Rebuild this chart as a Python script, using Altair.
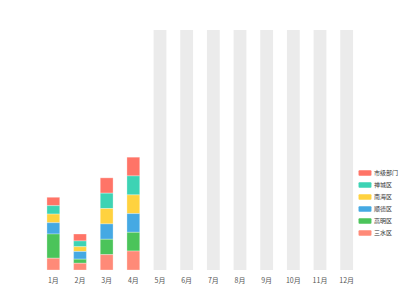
import altair as alt
import pandas as pd

months = ["1月", "2月", "3月", "4月", "5月", "6月", "7月", "8月", "9月", "10月", "11月", "12月"]
series = ["市级部门", "禅城区", "南海区", "顺德区", "高明区", "三水区"]
colors = ["#FF7467", "#3DD3B4", "#FFD23F", "#45A9E3", "#4BC45A", "#FF8A78"]
# values per series for months 1-4 (bottom of stack = 三水区)
values = {
    "三水区": [4.9, 2.8, 6.4, 7.9],
    "高明区": [10.1, 1.7, 6.4, 7.8],
    "顺德区": [4.7, 3.2, 6.4, 7.8],
    "南海区": [3.6, 2.0, 6.4, 7.8],
    "禅城区": [3.5, 2.4, 6.4, 7.9],
    "市级部门": [3.5, 2.9, 6.4, 7.8],
}
empty_months = ["5月", "6月", "7月", "8月", "9月", "10月", "11月", "12月"]
empty_value = 100

rows = []
for s in series:
    for m, v in zip(months[:4], values[s]):
        rows.append({"month": m, "series": s, "value": v, "ord": 5 - series.index(s)})
df = pd.DataFrame(rows)
bg = pd.DataFrame({"month": empty_months, "value": [empty_value] * len(empty_months)})

xenc = alt.X("month:N", sort=months, scale=alt.Scale(domain=months, paddingInner=0.52, paddingOuter=0.26),
             axis=alt.Axis(title=None, labelAngle=0, domain=False, ticks=False, labelColor="#555555",
                           labelFontSize=7, labelPadding=6, labelFont="Noto Sans CJK SC"))
yscale = alt.Scale(domain=[0, 100])

rounded = ("M-1.2,-0.6H1.2Q1.4,-0.6 1.4,-0.4V0.4Q1.4,0.6 1.2,0.6H-1.2"
           "Q-1.4,0.6 -1.4,0.4V-0.4Q-1.4,-0.6 -1.2,-0.6Z")

background = alt.Chart(bg).mark_bar(color="#EBEBEB").encode(
    x=xenc,
    y=alt.Y("value:Q", scale=yscale, axis=None),
)

bars = alt.Chart(df).mark_bar(stroke="white", strokeWidth=0.3).encode(
    x=xenc,
    y=alt.Y("value:Q", stack="zero", scale=yscale, axis=None),
    color=alt.Color("series:N", scale=alt.Scale(domain=series, range=colors),
                    legend=alt.Legend(title=None, orient="none", legendX=320, legendY=138,
                                      symbolType=rounded, symbolSize=85,
                                      symbolStrokeWidth=0, labelFontSize=6,
                                      labelFont="Noto Sans CJK SC", labelColor="#333333",
                                      rowPadding=4, labelOffset=4, labelLimit=40)),
    order=alt.Order("ord:Q", sort="ascending"),
)

chart = alt.layer(background, bars).properties(
    width=320, height=240,
    autosize=alt.AutoSizeParams(type="none"),
    padding={"left": 40, "top": 30, "right": 40, "bottom": 30},
).configure_view(stroke=None)

chart.save("out.html", embed_options={"renderer": "svg", "actions": False})
